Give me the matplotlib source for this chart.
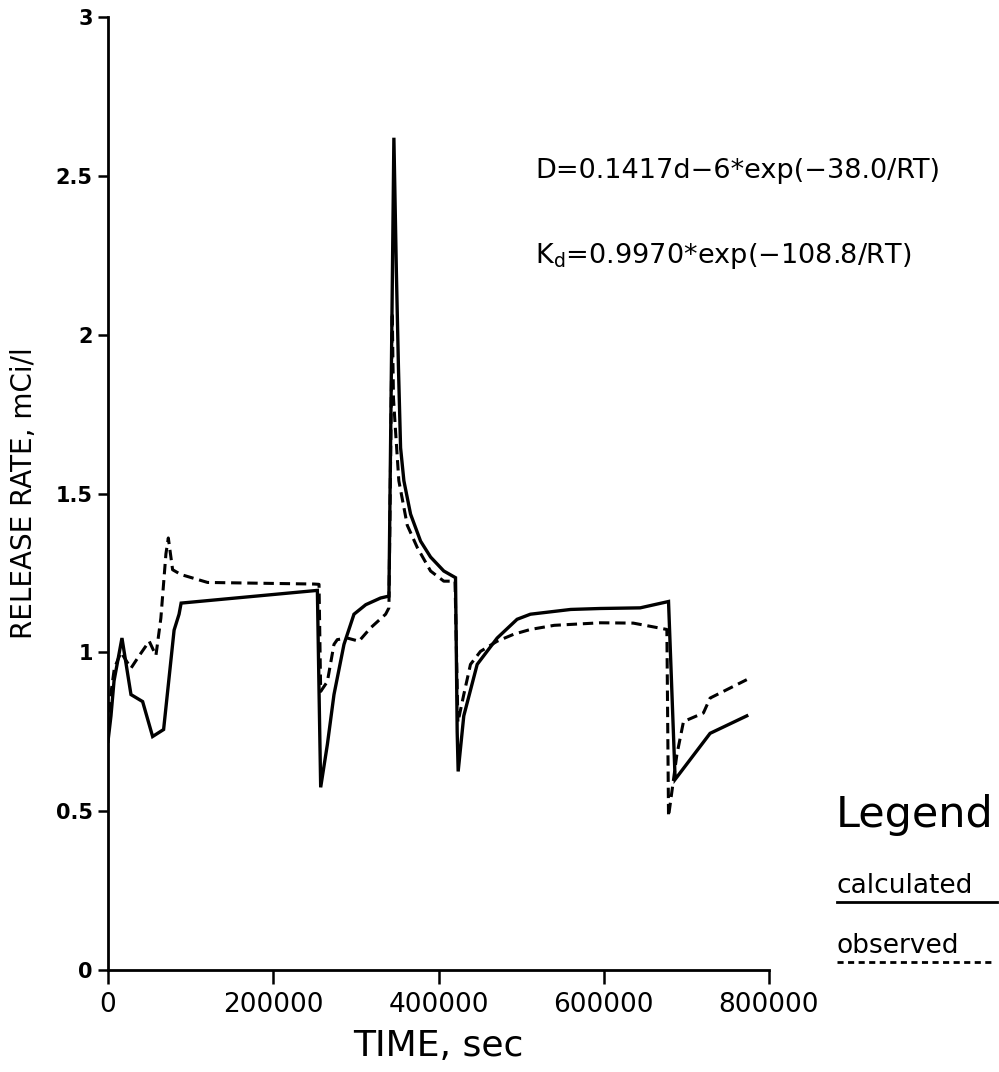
import matplotlib
matplotlib.use("Agg")
import matplotlib.pyplot as plt
from matplotlib.lines import Line2D

# ---- data ----
calc_time = [0, 3600, 7300, 16900, 27800, 41900, 54000, 67300, 80000, 86000, 88500,
             253400, 255400, 257400, 265500, 273500, 285600, 297700, 312000, 329900,
             340000, 346000, 349000, 351500, 354100, 358100, 366200, 378300, 390400,
             406400, 420600, 422600, 423800, 430600, 446800, 471000, 495100, 511200,
             560000, 595800, 644100, 678400, 686400, 728700, 773100]
calc_rate = [0.72, 0.80, 0.91, 1.045, 0.867, 0.845, 0.735, 0.757, 1.07, 1.12, 1.155,
             1.195, 0.88, 0.575, 0.71, 0.867, 1.025, 1.12, 1.15, 1.171,
             1.177, 2.62, 2.2, 1.9, 1.644, 1.54, 1.435, 1.35, 1.30,
             1.256, 1.235, 0.75, 0.625, 0.80, 0.962, 1.045, 1.104, 1.12,
             1.135, 1.138, 1.14, 1.16, 0.60, 0.745, 0.80]

obs_time = [0, 1500, 4000, 7700, 15700, 27800, 37900, 49900, 58000, 64000, 70100,
            73000, 78200, 88200, 120500, 249300, 255400, 257400, 265500, 273500,
            277500, 289600, 303700, 317800, 336000, 340000, 344000, 345500, 348000,
            352000, 362200, 374300, 390400, 406400, 420000, 423500, 430600, 438700,
            450800, 471000, 491100, 511200, 540000, 595800, 635700, 656200, 676400,
            678400, 688500, 696500, 720600, 728700, 773100]
obs_rate = [0.76, 0.80, 0.88, 0.95, 1.0, 0.95, 0.99, 1.035, 0.99, 1.108, 1.31,
            1.36, 1.26, 1.245, 1.22, 1.215, 1.214, 0.877, 0.908, 1.025,
            1.04, 1.045, 1.035, 1.077, 1.12, 1.14, 2.07, 1.80, 1.697,
            1.54, 1.40, 1.33, 1.256, 1.224, 1.224, 0.78, 0.867, 0.962,
            1.003, 1.035, 1.057, 1.072, 1.085, 1.093, 1.092, 1.082, 1.072,
            0.483, 0.678, 0.782, 0.809, 0.856, 0.914]

xticks = [0, 200000, 400000, 600000, 800000]
xtick_labels = ["0", "200000", "400000", "600000", "800000"]
yticks = [0, 0.5, 1, 1.5, 2, 2.5, 3]
ytick_labels = ["0", "0.5", "1", "1.5", "2", "2.5", "3"]

x_label = "TIME, sec"
y_label = "RELEASE RATE, mCi/l"
eq_D = "D=0.1417d\u22126*exp(\u221238.0/RT)"
eq_K = "K$_\\mathrm{d}$=0.9970*exp(\u2212108.8/RT)"
legend_title = "Legend"
legend_labels = ["calculated", "observed"]

# ---- figure ----
plt.rcParams['font.family'] = ['DejaVu Sans']
plt.rcParams['mathtext.default'] = 'regular'
W, H = 999, 1072
fig = plt.figure(figsize=(W / 100, H / 100), dpi=100)
fig.patch.set_facecolor('white')

ax_l, ax_r, ax_b, ax_t = 108, 769, 970, 17
ax = fig.add_axes([ax_l / W, 1 - ax_b / H, (ax_r - ax_l) / W, (ax_b - ax_t) / H])

ax.plot(calc_time, calc_rate, color='black', lw=2.4, solid_joinstyle='miter')
ax.plot(obs_time, obs_rate, color='black', lw=2.2, linestyle=(0, (3.4, 1.9)))

ax.set_xlim(0, 800000)
ax.set_ylim(0, 3)
for s in ['top', 'right']:
    ax.spines[s].set_visible(False)
for s in ['left', 'bottom']:
    ax.spines[s].set_linewidth(2.0)

ax.set_xticks(xticks)
ax.set_xticklabels(xtick_labels, fontsize=19)
ax.set_yticks(yticks)
ax.set_yticklabels(ytick_labels, fontsize=15, fontweight='bold')
ax.tick_params(axis='x', direction='out', length=10, width=1.8, pad=6)
ax.tick_params(axis='y', direction='out', length=7, width=1.8, pad=4)

ax.set_xlabel(x_label, fontsize=26, labelpad=8)
ax.set_ylabel(y_label, fontsize=20)
ax.yaxis.set_label_coords(-0.106, 0.5)

# equations
fig.text(535 / W, 1 - 178 / H, eq_D, fontsize=19.5, ha='left', va='baseline')
fig.text(535 / W, 1 - 263 / H, eq_K, fontsize=19.5, ha='left', va='baseline')

# legend block
fig.text(836 / W, 1 - 827 / H, legend_title, fontsize=31, ha='left', va='baseline')
fig.text(837 / W, 1 - 893 / H, legend_labels[0], fontsize=19, ha='left', va='baseline')
fig.text(837 / W, 1 - 953 / H, legend_labels[1], fontsize=19, ha='left', va='baseline')
fig.add_artist(Line2D([837 / W, 997 / W], [1 - 902 / H, 1 - 902 / H],
                      transform=fig.transFigure, color='black', lw=2.0))
fig.add_artist(Line2D([837 / W, 995 / W], [1 - 962 / H, 1 - 962 / H],
                      transform=fig.transFigure, color='black', lw=2.0,
                      linestyle=(0, (2.2, 1.6))))

fig.savefig("out.png", dpi=100, facecolor='white')
